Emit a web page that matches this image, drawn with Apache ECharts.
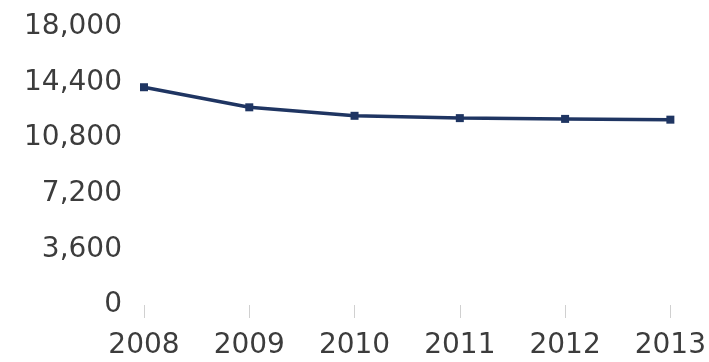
<!DOCTYPE html>
<html>
<head>
<meta charset="utf-8">
<script src="https://cdn.jsdelivr.net/npm/echarts@6/dist/echarts.min.js"></script>
<style>html,body{margin:0;padding:0;background:#fff;}#c{width:709px;height:362px;}</style>
</head>
<body>
<div id="c"></div>
<script>
const years = ['2008', '2009', '2010', '2011', '2012', '2013'];
const values = [14100, 12800, 12250, 12100, 12050, 12000];
const yTicks = [0, 3600, 7200, 10800, 14400, 18000];

const chart = echarts.init(document.getElementById('c'), null, {renderer: 'canvas'});
chart.setOption({
  animation: false,
  grid: {left: 144, right: 37, top: 27, bottom: 57, containLabel: false},
  xAxis: {
    type: 'category',
    data: years,
    boundaryGap: false,
    axisLine: {show: false},
    axisTick: {show: true, alignWithLabel: true, length: 13, lineStyle: {color: '#d0d0d0', width: 1}},
    axisLabel: {fontFamily: 'DejaVu Sans', fontSize: 28, color: '#3c3c3c', margin: 27},
    splitLine: {show: false}
  },
  yAxis: {
    type: 'value',
    min: yTicks[0],
    max: yTicks[yTicks.length - 1],
    interval: yTicks[1] - yTicks[0],
    axisLine: {show: false},
    axisTick: {show: false},
    splitLine: {show: false},
    axisLabel: {
      fontFamily: 'DejaVu Sans', fontSize: 28, color: '#3c3c3c', margin: 22,
      formatter: v => v.toLocaleString('en-US')
    }
  },
  series: [{
    type: 'line',
    data: values,
    symbol: 'rect',
    symbolSize: 8,
    lineStyle: {color: '#1f3562', width: 3.5},
    itemStyle: {color: '#1f3562'}
  }]
});
</script>
</body>
</html>
